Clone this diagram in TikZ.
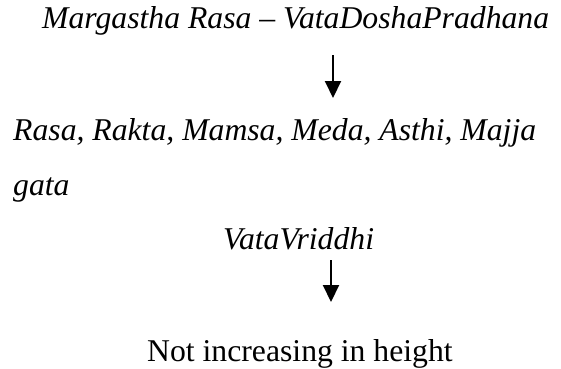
\documentclass[tikz,border=0pt]{standalone}
\usepackage{fontspec}
\setmainfont{LiberationSerif-Regular.ttf}[ItalicFont=LiberationSerif-Italic.ttf]
\usetikzlibrary{arrows.meta}
\tikzset{
  lbl/.style={anchor=base west, inner sep=0pt, font=\fontsize{31.7}{38}\selectfont},
  arr/.style={line width=2pt, -{Triangle[width=16pt,length=17pt]}}
}
\begin{document}
\begin{tikzpicture}[x=1pt,y=1pt]
\useasboundingbox (0,0) rectangle (561,-368);
\node[lbl] (top) at (42,-28) {\itshape Margastha Rasa – VataDoshaPradhana};
\node[lbl] (dhatu) at (13,-140) {\itshape Rasa, Rakta, Mamsa, Meda, Asthi, Majja};
\node[lbl] (gata) at (13,-195) {\itshape gata};
\node[lbl] (vv) at (223,-249) {\itshape VataVriddhi};
\node[lbl] (res) at (147,-361) {Not increasing in height};
\coordinate (a1s) at (333,-55);
\coordinate (a1e) at (333,-98);
\coordinate (a2s) at (331,-260);
\coordinate (a2e) at (331,-302);
\draw[arr] (a1s) -- (a1e);
\draw[arr] (a2s) -- (a2e);
\end{tikzpicture}
\end{document}
